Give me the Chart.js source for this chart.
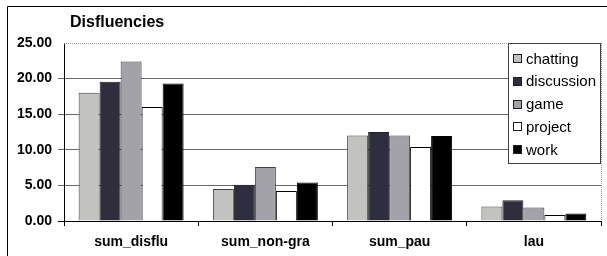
<!DOCTYPE html>
<html>
<head>
<meta charset="utf-8">
<script src="https://cdn.jsdelivr.net/npm/chart.js@4.4.1/dist/chart.umd.min.js"></script>
<style>
  html, body { margin: 0; padding: 0; background: #fff; }
  canvas { display: block; }
</style>
</head>
<body>
<canvas id="disfluChart" width="607" height="256"></canvas>
<script>
const categories = ['sum_disflu', 'sum_non-gra', 'sum_pau', 'lau'];
const seriesNames = ['chatting', 'discussion', 'game', 'project', 'work'];
const chatting = [18.0, 4.5, 12.0, 2.05];
const discussion = [19.55, 5.1, 12.5, 2.9];
const game = [22.4, 7.6, 12.0, 1.9];
const project = [16.0, 4.2, 10.4, 0.85];
const work = [19.3, 5.4, 11.95, 1.05];
const yTicks = [0, 5, 10, 15, 20, 25];

const fills = ['#c2c2c0', '#2e2e3e', '#a2a2a8', '#ffffff', '#000000'];
const edges = ['#404040', '#202020', '#404040', '#000000', '#000000'];
const seriesValues = [chatting, discussion, game, project, work];

const fontFamily = '"Liberation Sans", Arial, sans-serif';

// frame, title, dotted plot border and legend box, drawn like the Excel original
const excelDecor = {
    id: 'excelDecor',
    beforeDraw(chart) {
        const ctx = chart.ctx;
        ctx.save();
        ctx.fillStyle = '#fff';
        ctx.fillRect(0, 0, chart.width, chart.height);
        ctx.restore();
    },
    afterDraw(chart) {
        const ctx = chart.ctx;
        const area = chart.chartArea;
        ctx.save();

        // outer frame
        ctx.strokeStyle = '#000';
        ctx.lineWidth = 1;
        ctx.beginPath();
        ctx.moveTo(7.5, chart.height);
        ctx.lineTo(7.5, 6.5);
        ctx.lineTo(chart.width, 6.5);
        ctx.stroke();

        // title
        ctx.fillStyle = '#000';
        ctx.font = 'bold 16px ' + fontFamily;
        ctx.textBaseline = 'middle';
        ctx.textAlign = 'left';
        ctx.fillText('Disfluencies', 70, 23);

        // dotted right border of plot area
        ctx.strokeStyle = '#9a9a9a';
        ctx.setLineDash([1, 1]);
        ctx.beginPath();
        ctx.moveTo(Math.round(area.right) + 0.5, area.top);
        ctx.lineTo(Math.round(area.right) + 0.5, area.bottom);
        ctx.moveTo(area.left, Math.round(area.top) + 0.5);
        ctx.lineTo(area.right, Math.round(area.top) + 0.5);
        ctx.stroke();
        ctx.setLineDash([]);

        // legend
        const lx = 508.5, ly = 43.5, lw = 92, lh = 120;
        ctx.fillStyle = '#fff';
        ctx.fillRect(lx, ly, lw, lh);
        ctx.strokeStyle = '#404040';
        ctx.strokeRect(lx, ly, lw, lh);
        ctx.font = '15px ' + fontFamily;
        chart.data.datasets.forEach((ds, i) => {
            const cy = 59 + i * 22.8;
            ctx.fillStyle = ds.backgroundColor;
            ctx.fillRect(513.5, Math.round(cy) - 4.5, 8, 8);
            ctx.strokeStyle = '#202020';
            ctx.strokeRect(513.5, Math.round(cy) - 4.5, 8, 8);
            ctx.fillStyle = '#000';
            ctx.fillText(ds.label, 526, cy + 0.5);
        });
        ctx.restore();
    }
};

const datasets = seriesNames.map((name, i) => ({
    label: name,
    data: seriesValues[i],
    backgroundColor: fills[i],
    borderColor: edges[i],
    borderWidth: 1,
    categoryPercentage: 0.782,
    barPercentage: 1.0
}));

new Chart(document.getElementById('disfluChart').getContext('2d'), {
    type: 'bar',
    data: { labels: categories, datasets: datasets },
    plugins: [excelDecor],
    options: {
        responsive: false,
        animation: false,
        layout: { padding: { top: 43, right: 6, bottom: 0, left: 0 } },
        plugins: {
            legend: { display: false },
            title: { display: false },
            tooltip: { enabled: false }
        },
        scales: {
            x: {
                afterFit: (scale) => { scale.height = 35; },
                grid: {
                    drawOnChartArea: false,
                    drawTicks: true,
                    tickLength: 5,
                    color: '#000',
                    offset: true
                },
                border: { color: '#000' },
                ticks: {
                    color: '#000',
                    padding: 8,
                    font: { family: fontFamily, size: 14, weight: 'bold' }
                }
            },
            y: {
                min: 0,
                max: 25,
                afterFit: (scale) => { scale.width = 64; },
                afterBuildTicks: (scale) => { scale.ticks = yTicks.map(v => ({ value: v })); },
                grid: {
                    tickLength: 6,
                    color: (c) => c.tick && c.tick.value === 25 ? 'rgba(0,0,0,0)' : (c.tick && c.tick.value === 0 ? '#000' : '#6a6a6a'),
                    lineWidth: 1
                },
                border: { color: '#000' },
                ticks: {
                    color: '#000',
                    padding: 6,
                    font: { family: fontFamily, size: 14, weight: 'bold' },
                    callback: (v) => Number(v).toFixed(2)
                }
            }
        }
    }
});
</script>
</body>
</html>
